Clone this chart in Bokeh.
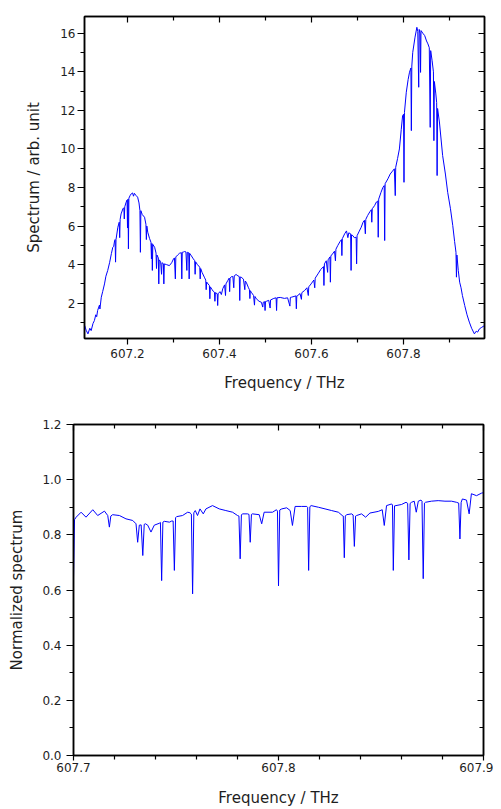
from bokeh.plotting import figure
from bokeh.models import Range1d, LinearAxis, FixedTicker, PrintfTickFormatter
from bokeh.embed import file_html
from bokeh.resources import INLINE

# ---------------- data: top panel (spectrum) ----------------
top_freq = [
    607.107, 607.110, 607.114, 607.118, 607.121, 607.125, 607.128, 607.131, 607.133, 607.135,
    607.139, 607.140, 607.143, 607.146, 607.150, 607.153, 607.157, 607.161, 607.165, 607.168,
    607.170, 607.172, 607.173, 607.174, 607.175, 607.179, 607.182, 607.183, 607.184, 607.186,
    607.190, 607.192, 607.193, 607.194, 607.197, 607.199, 607.200, 607.201, 607.202, 607.203,
    607.206, 607.208, 607.211, 607.213, 607.215, 607.218, 607.222, 607.225, 607.227, 607.228,
    607.229, 607.232, 607.237, 607.240, 607.241, 607.242, 607.244, 607.248, 607.251, 607.252,
    607.253, 607.254, 607.255, 607.259, 607.262, 607.263, 607.264, 607.267, 607.268, 607.269,
    607.272, 607.274, 607.275, 607.278, 607.279, 607.280, 607.285, 607.291, 607.296, 607.300,
    607.302, 607.304, 607.305, 607.309, 607.313, 607.317, 607.318, 607.319, 607.322, 607.324,
    607.327, 607.329, 607.330, 607.333, 607.334, 607.335, 607.339, 607.343, 607.346, 607.347,
    607.348, 607.352, 607.357, 607.358, 607.359, 607.362, 607.367, 607.370, 607.371, 607.372,
    607.375, 607.378, 607.379, 607.380, 607.384, 607.387, 607.389, 607.390, 607.391, 607.395,
    607.396, 607.397, 607.401, 607.404, 607.407, 607.411, 607.413, 607.414, 607.418, 607.421,
    607.422, 607.423, 607.426, 607.429, 607.431, 607.432, 607.436, 607.440, 607.443, 607.444,
    607.445, 607.447, 607.452, 607.455, 607.456, 607.458, 607.463, 607.465, 607.466, 607.467,
    607.469, 607.474, 607.476, 607.477, 607.480, 607.486, 607.491, 607.494, 607.495, 607.498,
    607.499, 607.500, 607.502, 607.507, 607.510, 607.511, 607.512, 607.518, 607.523, 607.524,
    607.525, 607.532, 607.541, 607.548, 607.553, 607.554, 607.556, 607.562, 607.566, 607.567,
    607.568, 607.570, 607.575, 607.578, 607.579, 607.585, 607.590, 607.593, 607.594, 607.599,
    607.605, 607.607, 607.608, 607.614, 607.620, 607.626, 607.627, 607.628, 607.632, 607.635,
    607.636, 607.640, 607.641, 607.642, 607.647, 607.650, 607.652, 607.653, 607.657, 607.662,
    607.665, 607.666, 607.667, 607.672, 607.676, 607.679, 607.681, 607.685, 607.686, 607.687,
    607.690, 607.693, 607.697, 607.698, 607.699, 607.703, 607.708, 607.712, 607.715, 607.717,
    607.718, 607.722, 607.727, 607.730, 607.731, 607.732, 607.737, 607.741, 607.744, 607.745,
    607.746, 607.751, 607.755, 607.758, 607.759, 607.760, 607.766, 607.771, 607.776, 607.780,
    607.782, 607.783, 607.787, 607.791, 607.795, 607.798, 607.800, 607.801, 607.802, 607.806,
    607.810, 607.813, 607.816, 607.817, 607.818, 607.820, 607.825, 607.829, 607.831, 607.833,
    607.834, 607.836, 607.837, 607.838, 607.842, 607.846, 607.850, 607.853, 607.856, 607.858,
    607.859, 607.862, 607.865, 607.866, 607.867, 607.870, 607.872, 607.873, 607.874, 607.878,
    607.885, 607.891, 607.896, 607.902, 607.907, 607.911, 607.914, 607.915, 607.916, 607.919,
    607.922, 607.925, 607.928, 607.933, 607.938, 607.943, 607.948, 607.954, 607.958, 607.961,
    607.965, 607.970, 607.976,
]
top_spec = [
    0.84, 0.60, 0.41, 0.70, 0.58, 0.95, 1.10, 1.40, 1.30, 1.62,
    1.90, 1.70, 2.31, 2.60, 3.00, 3.40, 3.70, 4.10, 4.58, 4.90,
    4.95, 5.25, 5.30, 4.13, 5.30, 5.94, 6.20, 5.40, 6.35, 6.63,
    6.90, 6.95, 6.37, 7.00, 7.24, 7.35, 5.90, 7.40, 4.82, 7.45,
    7.60, 7.67, 7.72, 7.55, 7.70, 7.60, 7.50, 7.20, 6.80, 4.64,
    6.80, 6.60, 6.46, 6.10, 5.30, 6.00, 5.68, 5.35, 5.16, 4.30,
    5.10, 3.70, 5.05, 4.90, 4.60, 3.80, 4.50, 4.35, 3.00, 4.25,
    4.15, 3.50, 4.10, 4.05, 3.00, 4.04, 4.00, 3.95, 4.10, 4.30,
    4.35, 3.26, 4.40, 4.50, 4.59, 4.62, 3.26, 4.64, 4.66, 4.68,
    4.66, 3.70, 4.64, 4.62, 3.26, 4.59, 4.45, 4.30, 4.21, 3.50,
    4.15, 4.00, 3.87, 3.26, 3.80, 3.60, 3.35, 3.20, 2.70, 3.10,
    3.00, 2.92, 2.23, 2.85, 2.70, 2.60, 2.57, 2.10, 2.55, 2.49,
    1.88, 2.49, 2.60, 2.45, 2.75, 2.95, 2.40, 3.00, 3.18, 3.30,
    2.60, 3.30, 3.38, 3.38, 2.80, 3.42, 3.49, 3.42, 3.38, 2.14,
    3.36, 3.35, 3.25, 2.70, 3.15, 3.09, 2.80, 2.70, 2.24, 2.65,
    2.57, 2.40, 1.90, 2.35, 2.23, 2.10, 2.05, 1.80, 2.05, 2.08,
    1.62, 2.09, 2.10, 2.15, 1.75, 2.17, 2.18, 2.25, 2.28, 1.62,
    2.28, 2.30, 2.25, 2.28, 1.85, 2.30, 2.31, 2.35, 2.38, 1.71,
    2.38, 2.40, 2.50, 2.20, 2.55, 2.66, 2.80, 2.40, 2.85, 3.00,
    3.20, 2.80, 3.30, 3.52, 3.75, 3.90, 2.92, 4.04, 4.20, 3.60,
    4.25, 4.40, 3.09, 4.45, 4.60, 4.70, 4.20, 4.80, 4.99, 5.20,
    5.30, 4.47, 5.35, 5.60, 5.75, 5.40, 5.65, 5.60, 3.70, 5.55,
    5.50, 5.40, 5.42, 4.04, 5.50, 5.70, 5.94, 6.20, 6.30, 5.60,
    6.35, 6.55, 6.75, 6.85, 6.20, 6.90, 7.06, 7.25, 7.30, 5.42,
    7.40, 7.75, 8.00, 8.10, 5.25, 8.20, 8.45, 8.70, 8.85, 8.97,
    7.58, 9.05, 9.50, 10.00, 11.00, 11.73, 11.80, 8.27, 11.90, 12.94,
    13.60, 13.98, 14.20, 10.95, 14.30, 15.01, 15.80, 16.31, 16.10, 13.20,
    16.20, 16.00, 13.97, 16.14, 16.00, 15.88, 15.60, 15.45, 15.25, 11.12,
    15.10, 14.60, 14.00, 10.43, 13.50, 12.90, 12.40, 8.62, 12.10, 11.40,
    9.66, 8.70, 7.75, 6.90, 6.03, 5.20, 4.64, 3.35, 4.50, 3.70,
    3.09, 2.80, 2.40, 1.88, 1.40, 1.02, 0.70, 0.41, 0.55, 0.50,
    0.67, 0.75, 0.84,
]

# ---------------- data: bottom panel (normalized spectrum) ----------------
bot_freq = [
    607.7000, 607.7005, 607.7013, 607.7037, 607.7061, 607.7094, 607.7118, 607.7151, 607.7167, 607.7175,
    607.7182, 607.7191, 607.7224, 607.7256, 607.7289, 607.7305, 607.7313, 607.7321, 607.7330, 607.7338,
    607.7345, 607.7351, 607.7362, 607.7378, 607.7394, 607.7419, 607.7424, 607.7430, 607.7436, 607.7443,
    607.7468, 607.7479, 607.7486, 607.7492, 607.7498, 607.7503, 607.7532, 607.7557, 607.7568, 607.7575,
    607.7581, 607.7587, 607.7594, 607.7605, 607.7617, 607.7633, 607.7646, 607.7678, 607.7711, 607.7743,
    607.7776, 607.7800, 607.7807, 607.7813, 607.7819, 607.7824, 607.7849, 607.7856, 607.7862, 607.7868,
    607.7873, 607.7906, 607.7918, 607.7930, 607.7971, 607.7990, 607.7995, 607.8000, 607.8006, 607.8016,
    607.8040, 607.8057, 607.8068, 607.8081, 607.8113, 607.8138, 607.8142, 607.8147, 607.8153, 607.8159,
    607.8195, 607.8227, 607.8259, 607.8292, 607.8311, 607.8316, 607.8321, 607.8326, 607.8332, 607.8357,
    607.8364, 607.8370, 607.8376, 607.8381, 607.8405, 607.8425, 607.8446, 607.8487, 607.8506, 607.8516,
    607.8527, 607.8552, 607.8556, 607.8560, 607.8566, 607.8573, 607.8600, 607.8622, 607.8630, 607.8636,
    607.8642, 607.8649, 607.8662, 607.8672, 607.8682, 607.8695, 607.8700, 607.8706, 607.8712, 607.8717,
    607.8746, 607.8779, 607.8812, 607.8844, 607.8868, 607.8879, 607.8885, 607.8891, 607.8897, 607.8917,
    607.8930, 607.8941, 607.8966, 607.8990, 607.9000,
]
bot_norm = [
    0.645, 0.855, 0.864, 0.882, 0.864, 0.891, 0.870, 0.886, 0.870, 0.828,
    0.868, 0.873, 0.870, 0.858, 0.852, 0.840, 0.773, 0.835, 0.836, 0.725,
    0.838, 0.840, 0.835, 0.810, 0.835, 0.842, 0.845, 0.634, 0.846, 0.849,
    0.846, 0.850, 0.850, 0.671, 0.862, 0.866, 0.870, 0.882, 0.880, 0.875,
    0.586, 0.880, 0.888, 0.870, 0.894, 0.876, 0.894, 0.906, 0.894, 0.888,
    0.882, 0.870, 0.868, 0.713, 0.872, 0.876, 0.876, 0.874, 0.773, 0.874,
    0.876, 0.873, 0.840, 0.882, 0.882, 0.891, 0.886, 0.615, 0.890, 0.894,
    0.898, 0.888, 0.834, 0.903, 0.903, 0.903, 0.900, 0.671, 0.902, 0.906,
    0.900, 0.894, 0.888, 0.882, 0.870, 0.868, 0.717, 0.868, 0.873, 0.876,
    0.872, 0.758, 0.868, 0.870, 0.876, 0.864, 0.879, 0.885, 0.891, 0.834,
    0.906, 0.912, 0.908, 0.671, 0.905, 0.906, 0.910, 0.918, 0.914, 0.709,
    0.914, 0.918, 0.922, 0.882, 0.922, 0.926, 0.922, 0.641, 0.915, 0.918,
    0.922, 0.924, 0.922, 0.922, 0.918, 0.915, 0.785, 0.918, 0.930, 0.926,
    0.876, 0.949, 0.942, 0.951, 0.953,
]

top_x_major = [607.2, 607.4, 607.6, 607.8]
top_x_minor = [607.1, 607.3, 607.5, 607.7, 607.9]
top_y_major = [2, 4, 6, 8, 10, 12, 14, 16]
top_y_minor = [1, 3, 5, 7, 9, 11, 13, 15]
bot_x_major = [607.7, 607.8, 607.9]
bot_x_minor = [607.72, 607.74, 607.76, 607.78, 607.82, 607.84, 607.86, 607.88]
bot_y_major = [0.0, 0.2, 0.4, 0.6, 0.8, 1.0, 1.2]
bot_y_minor = [0.1, 0.3, 0.5, 0.7, 0.9, 1.1]

FONT = "DejaVu Sans"
LINE_COLOR = "#0000ff"
TXT = "#1e1e1e"


def style_main_axis(ax, title, ticks, minor, fmt, title_standoff, tick_out=7, label_standoff=3):
    ax.ticker = FixedTicker(ticks=ticks, minor_ticks=minor)
    ax.formatter = PrintfTickFormatter(format=fmt)
    ax.axis_label = title
    ax.axis_label_text_font = FONT
    ax.axis_label_text_font_size = "15px"
    ax.axis_label_text_font_style = "normal"
    ax.axis_label_text_color = TXT
    ax.axis_label_standoff = title_standoff
    ax.major_label_text_font = FONT
    ax.major_label_text_font_size = "12px"
    ax.major_label_text_color = TXT
    ax.major_label_standoff = label_standoff
    ax.axis_line_color = "black"
    ax.axis_line_width = 1.5
    ax.major_tick_line_color = "black"
    ax.minor_tick_line_color = "black"
    ax.major_tick_line_width = 1.2
    ax.minor_tick_line_width = 1.2
    ax.major_tick_out = tick_out
    ax.major_tick_in = 0
    ax.minor_tick_out = 4
    ax.minor_tick_in = 0


def mirror_axis(ticks, minor):
    ax = LinearAxis(ticker=FixedTicker(ticks=ticks, minor_ticks=minor))
    ax.major_label_overrides = {t: "" for t in ticks}
    ax.major_label_text_font_size = "0px"
    ax.major_label_standoff = 0
    ax.axis_line_color = "black"
    ax.axis_line_width = 1.5
    ax.major_tick_line_color = "black"
    ax.minor_tick_line_color = "black"
    ax.major_tick_line_width = 1.2
    ax.minor_tick_line_width = 1.2
    ax.major_tick_in = 6
    ax.major_tick_out = 0
    ax.minor_tick_in = 4
    ax.minor_tick_out = 0
    return ax


def make_fig(xr, yr, fw, fh, left, top, bottom):
    p = figure(
        output_backend="svg", toolbar_location=None,
        x_range=Range1d(*xr), y_range=Range1d(*yr),
        frame_width=fw, frame_height=fh,
        min_border_left=left, min_border_right=10,
        min_border_top=top, min_border_bottom=bottom,
        background_fill_color="white", border_fill_color="white",
    )
    p.xgrid.visible = False
    p.ygrid.visible = False
    p.outline_line_color = "black"
    p.outline_line_width = 1.5
    return p


# ---------------- top figure ----------------
p1 = make_fig((607.1065, 607.976), (0.17, 16.87), 400, 322, 84, 16, 62)
p1.line(top_freq, top_spec, line_color=LINE_COLOR, line_width=1)
style_main_axis(p1.xaxis[0], "Frequency / THz", top_x_major, top_x_minor, "%.1f", 13, 6, 4)
style_main_axis(p1.yaxis[0], "Spectrum / arb. unit", top_y_major, top_y_minor, "%d", 14, 7, 2)
p1.add_layout(mirror_axis(top_x_major, top_x_minor), "above")
p1.add_layout(mirror_axis(top_y_major, top_y_minor), "right")

# ---------------- bottom figure ----------------
p2 = make_fig((607.7, 607.9), (0.0, 1.2), 410, 331, 73, 24, 53)
p2.line(bot_freq, bot_norm, line_color=LINE_COLOR, line_width=1)
style_main_axis(p2.xaxis[0], "Frequency / THz", bot_x_major, bot_x_minor, "%.1f", 14, 5, 2)
style_main_axis(p2.yaxis[0], "Normalized spectrum", bot_y_major, bot_y_minor, "%.1f", 13, 7, 5)
p2.add_layout(mirror_axis(bot_x_major, bot_x_minor), "above")
p2.add_layout(mirror_axis(bot_y_major, bot_y_minor), "right")

# two independent roots, stacked by the page (no frame alignment between them)
open("out.html", "w").write(file_html([p1, p2], INLINE))
